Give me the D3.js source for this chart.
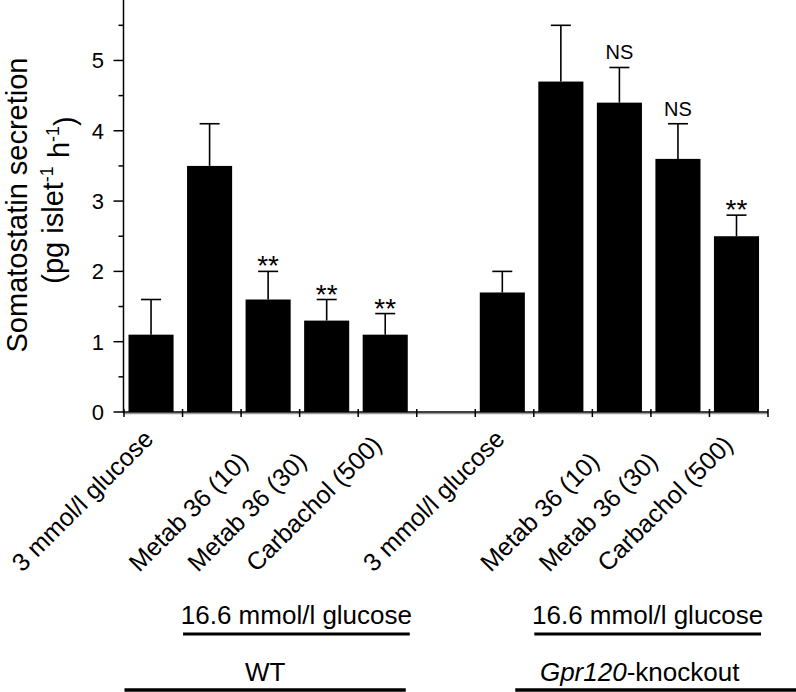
<!DOCTYPE html>
<html>
<head>
<meta charset="utf-8">
<script src="https://cdn.jsdelivr.net/npm/d3@7"></script>
<style>
  html, body { margin: 0; padding: 0; background: #fff; }
  svg { display: block; font-family: "Liberation Sans", Arial, Helvetica, sans-serif; }
</style>
</head>
<body>
<svg id="chart" width="796" height="692"></svg>
<script>
// ---- data ----
const categories = ["WT-3G", "WT-16.6G", "WT-M10", "WT-M30", "WT-Carb", "gap",
                    "KO-3G", "KO-16.6G", "KO-M10", "KO-M30", "KO-Carb"];
const tickLabels = ["3 mmol/l glucose", "", "Metab 36 (10)", "Metab 36 (30)", "Carbachol (500)", "",
                    "3 mmol/l glucose", "", "Metab 36 (10)", "Metab 36 (30)", "Carbachol (500)"];
const means = [1.1, 3.5, 1.6, 1.3, 1.1, null, 1.7, 4.7, 4.4, 3.6, 2.5];
const sem   = [0.5, 0.6, 0.4, 0.3, 0.3, null, 0.3, 0.8, 0.5, 0.5, 0.3];
const marks = ["", "", "**", "**", "**", "", "", "", "NS", "NS", "**"];
const yTicks = [0, 1, 2, 3, 4, 5];
const yMinorTicks = [0.5, 1.5, 2.5, 3.5, 4.5, 5.5];
const groups = [
  { italic: "", rest: "WT", sub: "16.6 mmol/l glucose", subFrom: "WT-16.6G", subTo: "WT-Carb", from: "WT-3G" },
  { italic: "Gpr120", rest: "-knockout", sub: "16.6 mmol/l glucose", subFrom: "KO-16.6G", subTo: "KO-Carb", from: "KO-3G" }
];

// ---- layout ----
const svg = d3.select("#chart");
const axisX = 123.5, baseY = 412;
const x = d3.scaleBand().domain(categories).range([124, 768]).padding(0);
const y = d3.scaleLinear().domain([0, 5.86]).range([baseY, 0]);
const bw = x.bandwidth() * 0.77;
const bx = c => x(c) + 4.5;
const cx = c => bx(c) + bw / 2;

const data = categories.map((c, i) => ({ c, label: tickLabels[i], m: means[i], e: sem[i], mark: marks[i] }));
const barData = data.filter(d => d.m != null);

// bars
svg.append("g").selectAll("rect").data(barData).join("rect")
  .attr("x", d => bx(d.c)).attr("width", bw)
  .attr("y", d => y(d.m)).attr("height", d => y(0) - y(d.m))
  .attr("fill", "#000");

// error bars
const eg = svg.append("g").attr("stroke", "#000").attr("stroke-width", 1.6);
eg.selectAll("line.v").data(barData).join("line").attr("class", "v")
  .attr("x1", d => cx(d.c)).attr("x2", d => cx(d.c))
  .attr("y1", d => y(d.m)).attr("y2", d => y(d.m + d.e));
eg.selectAll("line.h").data(barData).join("line").attr("class", "h")
  .attr("x1", d => cx(d.c) - 10).attr("x2", d => cx(d.c) + 10)
  .attr("y1", d => y(d.m + d.e)).attr("y2", d => y(d.m + d.e));

// significance marks
svg.append("g").selectAll("text").data(barData.filter(d => d.mark)).join("text")
  .attr("x", d => cx(d.c))
  .attr("y", d => d.mark === "NS" ? y(d.m + d.e) - 8 : y(d.m + d.e) + 4)
  .attr("text-anchor", "middle")
  .attr("font-size", d => d.mark === "NS" ? 20 : 28)
  .text(d => d.mark);

// y axis
const ya = svg.append("g").attr("stroke", "#000").attr("stroke-width", 1.5);
ya.append("line").attr("x1", axisX).attr("x2", axisX).attr("y1", 0).attr("y2", baseY + 1);
ya.selectAll("line.maj").data(yTicks).join("line").attr("class", "maj")
  .attr("x1", axisX - 10).attr("x2", axisX).attr("y1", d => y(d)).attr("y2", d => y(d));
ya.selectAll("line.min").data(yMinorTicks).join("line").attr("class", "min")
  .attr("x1", axisX - 5).attr("x2", axisX).attr("y1", d => y(d)).attr("y2", d => y(d));
svg.append("g").selectAll("text").data(yTicks).join("text")
  .attr("x", 104).attr("y", d => y(d)).attr("dy", "0.36em")
  .attr("text-anchor", "end").attr("font-size", 22)
  .text(d => d);

// y title
svg.append("text").attr("transform", "translate(27,205) rotate(-90)")
  .attr("text-anchor", "middle").attr("font-size", 29).text("Somatostatin secretion");
const t2 = svg.append("text").attr("transform", "translate(63,200) rotate(-90)")
  .attr("text-anchor", "middle").attr("font-size", 29);
t2.append("tspan").text("(pg islet");
t2.append("tspan").attr("dy", "-0.55em").attr("font-size", 18).text("-1");
t2.append("tspan").attr("dy", "0.55em").text(" h");
t2.append("tspan").attr("dy", "-0.55em").attr("font-size", 18).text("-1");
t2.append("tspan").attr("dy", "0.55em").text(")");

// x axis
svg.append("line").attr("x1", axisX).attr("x2", 768).attr("y1", baseY).attr("y2", baseY)
  .attr("stroke", "#000").attr("stroke-width", 1.5);
svg.append("line").attr("x1", axisX).attr("x2", 768).attr("y1", baseY + 1.6).attr("y2", baseY + 1.6)
  .attr("stroke", "#999").attr("stroke-width", 1.4);
const bounds = categories.map(c => x(c)).concat([x.range()[1]]);
svg.append("g").selectAll("line").data(bounds).join("line")
  .attr("x1", d => d).attr("x2", d => d).attr("y1", baseY - 3).attr("y2", baseY + 5)
  .attr("stroke", "#000").attr("stroke-width", 1.5);

// x tick labels (rotated)
svg.append("g").selectAll("text").data(data.filter(d => d.label)).join("text")
  .attr("transform", d => `translate(${x(d.c) + x.bandwidth() / 2 - 131},573) rotate(-45)`)
  .attr("text-anchor", "start").attr("font-size", 25)
  .text(d => d.label);

// group annotations
groups.forEach((g, gi) => {
  const sx1 = bx(g.subFrom) - 4, sx2 = bx(g.subTo) + bw + 2;
  svg.append("line").attr("x1", sx1).attr("x2", sx2).attr("y1", 634).attr("y2", 634)
    .attr("stroke", "#000").attr("stroke-width", 3);
  svg.append("text").attr("x", (sx1 + sx2) / 2).attr("y", 624).attr("text-anchor", "middle")
    .attr("font-size", 26).text(g.sub);
  const lx1 = gi === 0 ? axisX + 1 : x(g.from) + 40;
  const lx2 = gi === 0 ? sx2 - 4 : 796;
  svg.append("line").attr("x1", lx1).attr("x2", lx2).attr("y1", 690).attr("y2", 690)
    .attr("stroke", "#000").attr("stroke-width", 3.5);
  const tx = gi === 0 ? (lx1 + lx2) / 2 : (sx1 + sx2) / 2 - 8;
  const tt = svg.append("text").attr("x", tx).attr("y", 681).attr("text-anchor", "middle").attr("font-size", 26);
  if (g.italic) tt.append("tspan").attr("font-style", "italic").text(g.italic);
  tt.append("tspan").text(g.rest);
});
</script>
</body>
</html>
